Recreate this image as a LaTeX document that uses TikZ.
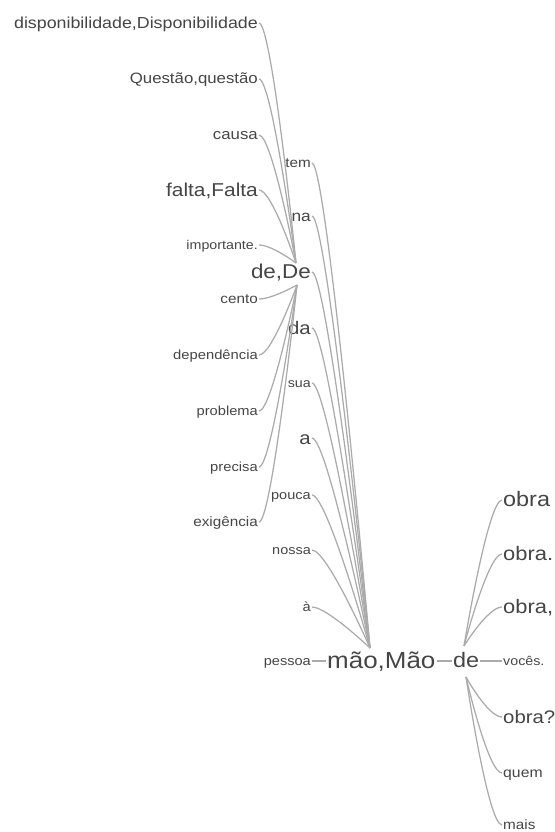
\documentclass[tikz,border=0pt]{standalone}
\usepackage{fontspec}
\setmainfont[FakeStretch=1.12]{Liberation Sans}
\usetikzlibrary{calc}
\definecolor{tc}{HTML}{454545}
\definecolor{lc}{HTML}{ABABAB}
\newcommand\wfsz[1]{\pgfmathsetmacro\wfszv{#1/1.1}\fontsize{\wfszv pt}{\wfszv pt}\selectfont}
\begin{document}
\begin{tikzpicture}[x=1pt,y=-1pt,
  w/.style={font=\wfsz{#1},text=tc,text height=0.8*#1pt,text depth=0.2*#1pt,inner xsep=1pt,inner ysep=0pt},
  lw/.style={w=#1,anchor=east},
  rw/.style={w=#1,anchor=west},
  link/.style={draw=lc,line width=1.25pt}]
\useasboundingbox (0,0) rectangle (554,832);
% words before "de,De"
\node[lw=17.5] (d1) at (259,23) {disponibilidade,Disponibilidade};
\node[lw=16.5] (d2) at (259,79) {Questão,questão};
\node[lw=16.5] (d3) at (259,135) {causa};
\node[lw=20.5] (d4) at (259,190) {falta,Falta};
\node[lw=14] (d5) at (259,245) {importante.};
\node[lw=15] (d6) at (259,299) {cento};
\node[lw=14.5] (d7) at (259,355) {dependência};
\node[lw=14.4] (d8) at (259,411) {problema};
\node[lw=14.5] (d9) at (259,467) {precisa};
\node[lw=15] (d10) at (259,522) {exigência};
% words before the root
\node[lw=15] (p1) at (312,163) {tem};
\node[lw=17] (p2) at (312,216) {na};
\node[lw=22] (p3) at (312,272) {de,De};
\node[lw=20] (p4) at (312,328) {da};
\node[lw=14] (p5) at (312,383) {sua};
\node[lw=20] (p6) at (312,438) {a};
\node[lw=14.3] (p7) at (312,495) {pouca};
\node[lw=14.2] (p8) at (312,550) {nossa};
\node[lw=14.4] (p9) at (312,607) {à};
\node[lw=14.3] (p10) at (312,661) {pessoa};
% root and its follower
\node[rw=25.5] (root) at (326,661) {mão,Mão};
\node[rw=23] (de) at (452,661) {de};
% words after "de"
\node[rw=23] (f1) at (502,500) {obra};
\node[rw=21.5] (f2) at (502,554) {obra.};
\node[rw=21.5] (f3) at (502,607) {obra,};
\node[rw=14] (f4) at (502,661) {vocês.};
\node[rw=20] (f5) at (502,717) {obra?};
\node[rw=15.5] (f6) at (502,773) {quem};
\node[rw=15] (f7) at (502,825) {mais};
% meeting points
\coordinate (dT) at (296,263);
\coordinate (dB) at (297,285);
\coordinate (rT) at (370,648);
\coordinate (eT) at (464,646);
\coordinate (eB) at (466,677);
% connectors
\foreach \n in {d1,d2,d3,d4,d5}
  \draw[link] (\n.east) .. controls +(13,0) and +(0,0) .. (dT);
\foreach \n in {d6,d7,d8,d9,d10}
  \draw[link] (\n.east) .. controls +(13,0) and +(0,0) .. (dB);
\foreach \n in {p1,p2,p3,p4,p5,p6,p7,p8,p9}
  \draw[link] (\n.east) .. controls +(15,0) and +(0,0) .. (rT);
\draw[link] (p10.east) -- (root.west);
\draw[link] (root.east) -- (de.west);
\draw[link] (de.east) -- (f4.west);
\foreach \n in {f1,f2,f3}
  \draw[link] (eT) .. controls +(0,0) and +(-14,0) .. (\n.west);
\foreach \n in {f5,f6,f7}
  \draw[link] (eB) .. controls +(0,0) and +(-14,0) .. (\n.west);
\end{tikzpicture}
\end{document}
